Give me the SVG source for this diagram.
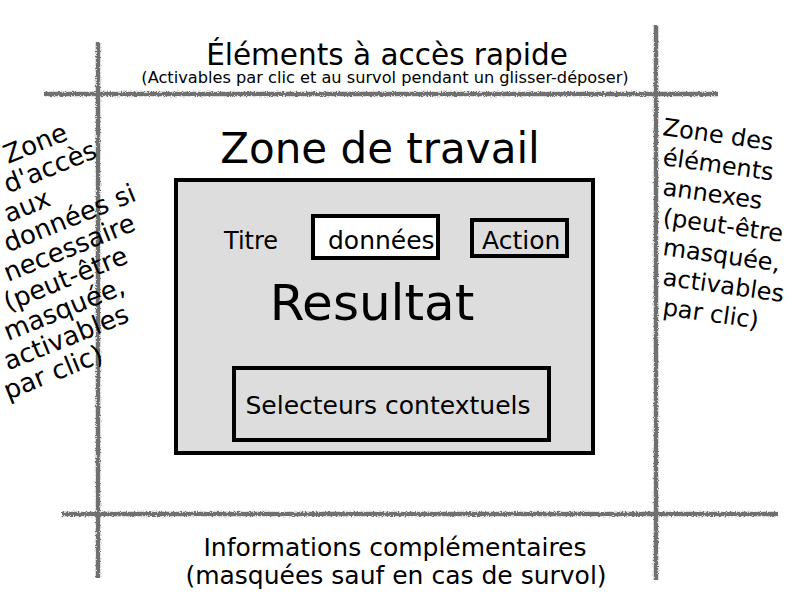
<svg xmlns="http://www.w3.org/2000/svg" width="800" height="600" viewBox="0 0 800 600">
<defs>
<filter id="pencil" filterUnits="userSpaceOnUse" x="0" y="0" width="800" height="600">
<feTurbulence type="fractalNoise" baseFrequency="0.8" numOctaves="2" seed="3" result="n"/>
<feDisplacementMap in="SourceGraphic" in2="n" scale="3.5" xChannelSelector="R" yChannelSelector="G" result="d"/>
<feGaussianBlur in="d" stdDeviation="0.5"/>
</filter>
</defs>
<style>
text{font-family:"DejaVu Sans","Liberation Sans",sans-serif;fill:#000}
.pl{stroke:#707070;stroke-width:4.5;fill:none;filter:url(#pencil)}
.box{stroke:#000;stroke-width:4}
.m{text-anchor:middle}
.side{font-size:24px}
.left{font-size:26px}
</style>
<rect width="800" height="600" fill="#fff"/>
<g id="connectors">
<line class="pl" x1="98" y1="42" x2="98" y2="578"/>
<line class="pl" x1="656" y1="25" x2="656" y2="580"/>
<line class="pl" x1="44" y1="94" x2="718" y2="94"/>
<line class="pl" x1="62" y1="514" x2="778" y2="514"/>
</g>
<g id="top">
<text class="m" x="387" y="65" font-size="29.5">Éléments à accès rapide</text>
<text class="m" x="385" y="83" font-size="16.2">(Activables par clic et au survol pendant un glisser-déposer)</text>
</g>
<g id="workzone">
<text class="m" x="380" y="163" font-size="42">Zone de travail</text>
<rect class="box" x="176" y="180" width="417" height="273" fill="#dddddd"/>
<text x="224" y="249" font-size="24">Titre</text>
<g id="donnees">
<rect class="box" x="313" y="216" width="125" height="42" fill="#fff" stroke-width="3.5"/>
<text x="328" y="249" font-size="25">données</text>
</g>
<g id="action">
<rect class="box" x="472" y="220" width="95" height="36" fill="#dddddd" stroke-width="3.5"/>
<text x="482" y="249" font-size="25">Action</text>
</g>
<text class="m" x="372" y="320" font-size="50">Resultat</text>
<g id="selecteurs">
<rect class="box" x="234" y="368" width="315" height="72" fill="#dddddd"/>
<text class="m" x="388" y="414" font-size="25">Selecteurs contextuels</text>
</g>
</g>
<g id="rightzone" class="side">
<text x="662" y="135" transform="rotate(8 662 135)">Zone des</text>
<text x="662" y="165" transform="rotate(8 662 165)">éléments</text>
<text x="662" y="195" transform="rotate(8 662 195)">annexes</text>
<text x="662" y="225" transform="rotate(8 662 225)">(peut-être</text>
<text x="662" y="255" transform="rotate(8 662 255)">masquée,</text>
<text x="662" y="285" transform="rotate(8 662 285)">activables</text>
<text x="662" y="315" transform="rotate(8 662 315)">par clic)</text>
</g>
<g id="leftzone" class="left">
<text x="8" y="164" transform="rotate(-22 8 164)">Zone</text>
<text x="8" y="193.5" transform="rotate(-22 8 193.5)">d'accès</text>
<text x="8" y="223" transform="rotate(-22 8 223)">aux</text>
<text x="8" y="252.5" transform="rotate(-22 8 252.5)">données si</text>
<text x="8" y="282" transform="rotate(-22 8 282)">necessaire</text>
<text x="8" y="311.5" transform="rotate(-22 8 311.5)">(peut-être</text>
<text x="8" y="341" transform="rotate(-22 8 341)">masquée,</text>
<text x="8" y="370.5" transform="rotate(-22 8 370.5)">activables</text>
<text x="8" y="400" transform="rotate(-22 8 400)">par clic)</text>
</g>
<g id="bottom">
<text class="m" x="395" y="556" font-size="25">Informations complémentaires</text>
<text class="m" x="396" y="584" font-size="25">(masquées sauf en cas de survol)</text>
</g>
</svg>
